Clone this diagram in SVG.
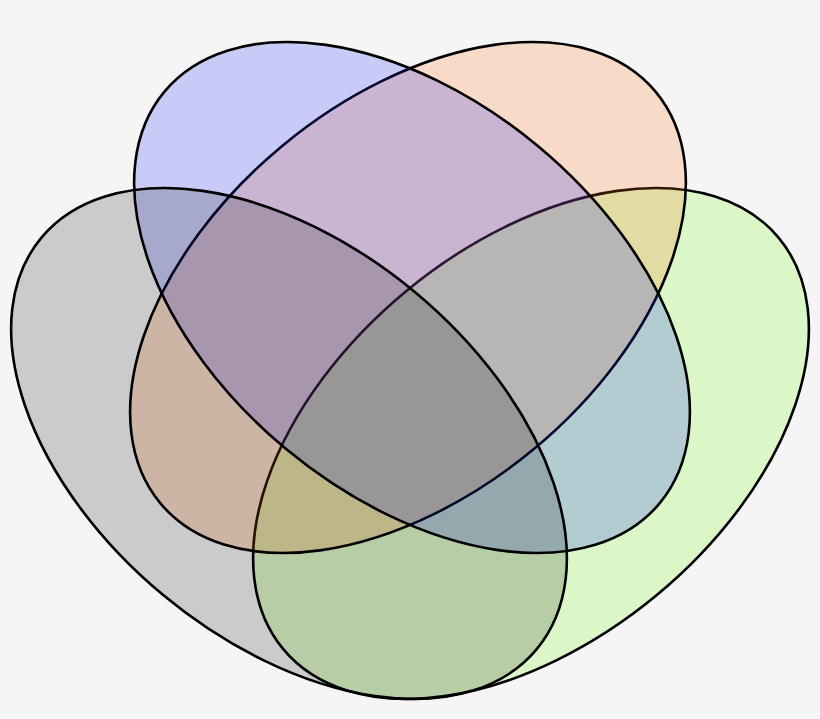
<svg xmlns="http://www.w3.org/2000/svg" width="820" height="719" viewBox="0 0 820 719">
  <style>
    .set { stroke: #000; stroke-width: 2.6; fill-opacity: 0.2; }
    .green { fill: #73ff14; }
    .orange { fill: #ff6e14; }
    .blue { fill: #1423fa; }
    .gray { fill: #000000; fill-opacity: 0.167; }
  </style>
  <rect x="0" y="0" width="820" height="719" fill="#f5f5f5"/>
  <g id="set-green">
    <ellipse class="set green" cx="0" cy="0" rx="322" ry="197" transform="translate(531 443.5) rotate(-39.7)"/>
  </g>
  <g id="set-orange">
    <ellipse class="set orange" cx="0" cy="0" rx="322" ry="197" transform="translate(408 297.5) rotate(-39.7)"/>
  </g>
  <g id="set-blue">
    <ellipse class="set blue" cx="0" cy="0" rx="322" ry="197" transform="translate(412 297.5) rotate(39.7)"/>
  </g>
  <g id="set-gray">
    <ellipse class="set gray" cx="0" cy="0" rx="322" ry="197" transform="translate(289 443.5) rotate(39.7)"/>
  </g>
</svg>
